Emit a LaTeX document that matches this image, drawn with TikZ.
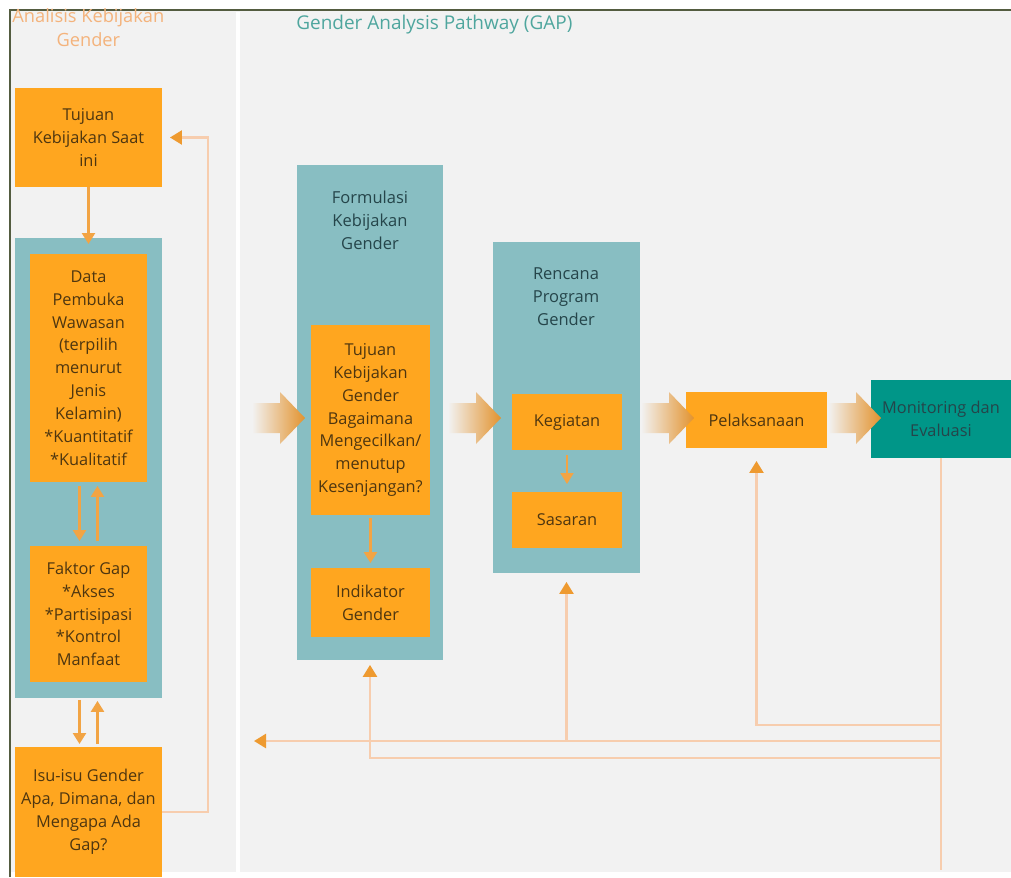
\documentclass[tikz,border=0pt]{standalone}
\usepackage{fontspec}
\setmainfont{Open Sans}
\usetikzlibrary{arrows.meta,positioning}
\definecolor{oranye}{HTML}{FFA61F}
\definecolor{tealM}{HTML}{88BEC2}
\definecolor{tealD}{HTML}{009688}
\definecolor{latar}{HTML}{F2F2F2}
\definecolor{bingkai}{HTML}{545C40}
\definecolor{garisP}{HTML}{F7CDAE}
\definecolor{ujung}{HTML}{EE9A30}
\definecolor{garisO}{HTML}{F2A444}
\definecolor{teksO}{HTML}{4E3610}
\definecolor{teksT}{HTML}{25454A}
\definecolor{judulA}{HTML}{F4B37C}
\definecolor{judulG}{HTML}{4FA69E}
\tikzset{
  kotak/.style={rectangle, fill=oranye, text=teksO, align=center, anchor=north west,
                font=\fontsize{9.3}{13}\selectfont, inner sep=1pt, outer sep=0pt},
  panel/.style={rectangle, fill=tealM, anchor=north west, inner sep=0pt, outer sep=0pt},
  judul/.style={align=center, text=teksT, font=\fontsize{9.4}{13}\selectfont, inner sep=0pt},
  panahbesar/.pic={
    \shade[left color=latar, middle color=garisO!70, right color=ujung!95!black]
      (-24,-15) -- (4,-15) -- (4,-26) -- (29,0) -- (4,26) -- (4,15) -- (-24,15) -- cycle;
  },
  panahO/.style={-{Triangle[length=2.2mm,width=2.6mm]}, line width=1.4pt, draw=garisO},
  umpan/.style={-{Triangle[length=2.4mm,width=2.8mm,color=ujung]}, line width=1.4pt, draw=garisP},
  polos/.style={line width=1.4pt, draw=garisP},
}
\begin{document}
\begin{tikzpicture}[x=0.02cm,y=-0.02cm]
  \useasboundingbox (0,0) rectangle (1011,877);
  % latar dan bingkai
  \fill[white] (0,0) rectangle (1011,877);
  \fill[latar] (10,10) rectangle (1011,872);
  \draw[bingkai, line width=1.6pt] (10,877) -- (10,10) -- (1011,10);
  \fill[white] (236,12) rectangle (240,872);
  \node[text=judulA, align=center, font=\fontsize{10.4}{14}\selectfont, anchor=north west, inner sep=0pt]
    (judulAnalisis) at (12,8) {Analisis Kebijakan\\Gender};
  \node[text=judulG, font=\fontsize{10.8}{13}\selectfont, anchor=west, inner sep=0pt]
    (judulGAP) at (296,25) {Gender Analysis Pathway (GAP)};

  % kolom analisis
  \node[kotak, minimum width=2.94cm, minimum height=1.98cm] (tujuan) at (15,88)
    {Tujuan\\Kebijakan Saat\\ini};
  \node[panel, minimum width=2.94cm, minimum height=9.2cm] (panelA) at (15,238) {};
  \node[kotak, minimum width=2.34cm, minimum height=4.56cm] (data) at (30,254)
    {Data\\Pembuka\\Wawasan\\(terpilih\\menurut\\Jenis\\Kelamin)\\*Kuantitatif\\*Kualitatif};
  \node[kotak, minimum width=2.34cm, minimum height=2.72cm] (faktor) at (30,546)
    {Faktor Gap\\*Akses\\*Partisipasi\\*Kontrol\\Manfaat};
  \node[kotak, minimum width=2.94cm, minimum height=2.6cm] (isu) at (15,747)
    {Isu-isu Gender\\Apa, Dimana, dan\\Mengapa Ada\\Gap?};

  \draw[panahO] (tujuan.south) -- ([yshift=-0.12cm]panelA.north);
  \draw[panahO] ([xshift=-0.18cm,yshift=-0.08cm]data.south) -- ([xshift=-0.18cm,yshift=0.1cm]faktor.north);
  \draw[panahO] ([xshift=0.18cm,yshift=0.1cm]faktor.north) -- ([xshift=0.18cm,yshift=-0.08cm]data.south);
  \draw[panahO] ([xshift=-0.18cm,yshift=-0.04cm]panelA.south) -- ([xshift=-0.18cm,yshift=0.06cm]isu.north);
  \draw[panahO] ([xshift=0.18cm,yshift=0.06cm]isu.north) -- ([xshift=0.18cm,yshift=-0.06cm]panelA.south);
  \draw[umpan, shorten >=0.16cm] (isu.east) -- ++(46,0) |- (tujuan.east);

  % formulasi
  \node[panel, minimum width=2.92cm, minimum height=9.9cm] (formulasi) at (297,165) {};
  \pic at (276,418) {panahbesar};
  \node[judul] (judulF) at (370,220) {Formulasi\\Kebijakan\\Gender};
  \node[kotak, minimum width=2.38cm, minimum height=3.8cm] (tujuanG) at (311,325)
    {Tujuan\\Kebijakan\\Gender\\Bagaimana\\Mengecilkan/\\menutup\\Kesenjangan?};
  \node[kotak, minimum width=2.38cm, minimum height=1.38cm] (indikator) at (311,568)
    {Indikator\\Gender};
  \draw[panahO] ([yshift=-0.06cm]tujuanG.south) -- ([yshift=0.1cm]indikator.north);

  % rencana
  \node[panel, minimum width=2.94cm, minimum height=6.62cm] (rencana) at (493,242) {};
  \pic at (472,418) {panahbesar};
  \node[judul] (judulR) at (566,297) {Rencana\\Program\\Gender};
  \node[kotak, minimum width=2.2cm, minimum height=1.12cm] (kegiatan) at (512,394) {Kegiatan};
  \node[kotak, minimum width=2.2cm, minimum height=1.12cm] (sasaran) at (512,492) {Sasaran};
  \draw[panahO, line width=1pt] ([yshift=-0.1cm]kegiatan.south) -- ([yshift=0.16cm]sasaran.north);

  % pelaksanaan dan monev
  \node[kotak, minimum width=2.82cm, minimum height=1.12cm] (pelaks) at (686,392) {Pelaksanaan};
  \pic at (665,418) {panahbesar};
  \node[kotak, fill=tealD, text=teksT, minimum width=2.8cm, minimum height=1.56cm] (monev) at (871,380)
    {Monitoring dan\\Evaluasi};
  \pic at (852,418) {panahbesar};

  % umpan balik
  \coordinate (ekor) at (monev.south |- 0,870);
  \coordinate (c1) at (monev.south |- 0,725);
  \coordinate (c2) at (monev.south |- 0,741);
  \coordinate (c3) at (monev.south |- 0,758);
  \coordinate (kiri) at (254,741);
  \draw[polos] (monev.south) -- (ekor);
  \draw[umpan, shorten >=0.26cm] (c1) -| (pelaks.south);
  \draw[umpan] (c2) -- (kiri);
  \draw[umpan, shorten >=0.18cm] (c2 -| rencana.south) -- (rencana.south);
  \draw[umpan, shorten >=0.1cm] (c3) -| (formulasi.south);
\end{tikzpicture}
\end{document}
